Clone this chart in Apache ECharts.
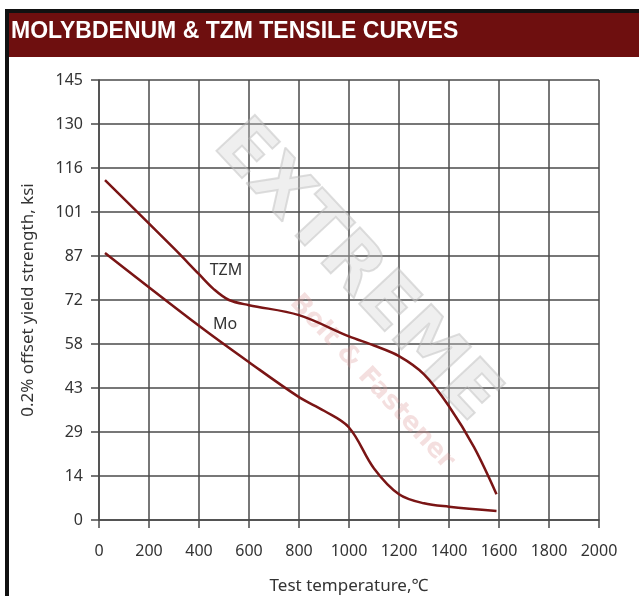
<!DOCTYPE html>
<html>
<head>
<meta charset="utf-8">
<script src="https://cdn.jsdelivr.net/npm/echarts@6/dist/echarts.min.js"></script>
<style>
    html, body { margin: 0; padding: 0; background: #fff; }
    #main { width: 639px; height: 596px; }
</style>
</head>
<body>
<div id="main"></div>
<script>
// temperature (C), 0.2% offset yield strength (ksi)
var tzmData = [
    [24, 112], [300, 89.5], [400, 81], [460, 76], [520, 72.5], [600, 70.8], [800, 67.5],
    [1000, 60.5], [1100, 57.5], [1200, 54], [1300, 48],
    [1400, 37.5], [1500, 24], [1590, 8.5]
];
var moData = [
    [24, 88], [400, 64], [600, 52], [800, 40.5], [900, 36],
    [1000, 30.5], [1100, 17], [1200, 8.5],
    [1300, 5.5], [1400, 4.4], [1590, 3]
];
var yTickLabels = ['0', '14', '29', '43', '58', '72', '87', '101', '116', '130', '145'];
var xTickLabels = ['0', '200', '400', '600', '800', '1000', '1200', '1400', '1600', '1800', '2000'];
var curveNames = ['TZM', 'Mo'];
var labelAt = [[508, 82.4], [504, 64.6]];

var lineColor = '#7a1515';
var gridColor = '#4a4a4a';
var txt = { color: '#333', fontSize: 16, fontFamily: 'Noto Sans' };

function curve(name, data, lab) {
    return {
        name: name,
        type: 'line',
        data: data,
        smooth: 0.35,
        showSymbol: false,
        lineStyle: { color: lineColor, width: 2.5 },
        markPoint: {
            symbol: 'circle',
            symbolSize: 0,
            data: [{ coord: lab }],
            label: {
                show: true,
                position: 'inside',
                formatter: name,
                color: '#333',
                fontSize: 16,
                fontFamily: 'Noto Sans'
            }
        },
        z: 5
    };
}

var option = {
    animation: false,
    backgroundColor: '#fff',
    grid: { left: 99, right: 40, top: 80, bottom: 76, outerBoundsMode: 'none' },
    xAxis: {
        type: 'value',
        min: 0,
        max: 2000,
        interval: 200,
        name: 'Test temperature,\u2103',
        nameLocation: 'middle',
        nameGap: 58,
        nameTextStyle: { color: '#333', fontSize: 17, fontFamily: 'Noto Sans' },
        axisLine: { show: true, lineStyle: { color: gridColor, width: 1.5 } },
        axisTick: { show: true, length: 8, lineStyle: { color: gridColor, width: 1.5 } },
        axisLabel: {
            margin: 23,
            color: txt.color,
            fontSize: txt.fontSize,
            fontFamily: txt.fontFamily,
            formatter: function (v) { return xTickLabels[Math.round(v / 200)]; }
        },
        splitLine: { show: true, lineStyle: { color: gridColor, width: 1.5 } }
    },
    yAxis: {
        type: 'value',
        min: 0,
        max: 145,
        interval: 14.5,
        name: '0.2% offset yield strength, ksi',
        nameLocation: 'middle',
        nameGap: 62,
        nameTextStyle: { color: '#333', fontSize: 17, fontFamily: 'Noto Sans' },
        axisLine: { show: true, lineStyle: { color: gridColor, width: 1.5 } },
        axisTick: { show: true, length: 8, lineStyle: { color: gridColor, width: 1.5 } },
        axisLabel: {
            margin: 16,
            color: txt.color,
            fontSize: txt.fontSize,
            fontFamily: txt.fontFamily,
            formatter: function (v) { return yTickLabels[Math.round(v / 14.5)]; }
        },
        splitLine: { show: true, lineStyle: { color: gridColor, width: 1.5 } }
    },
    graphic: [
        // frame + title bar
        { type: 'rect', shape: { x: 5, y: 9, width: 634, height: 4 }, style: { fill: '#111' }, z: 10 },
        { type: 'rect', shape: { x: 5, y: 9, width: 4, height: 587 }, style: { fill: '#111' }, z: 10 },
        { type: 'rect', shape: { x: 9, y: 13, width: 630, height: 44 }, style: { fill: '#6e0f0f' }, z: 10 },
        {
            type: 'text', left: 11, top: 20, z: 11,
            style: {
                text: 'MOLYBDENUM & TZM TENSILE CURVES',
                fill: '#fff',
                font: 'bold 23px "Liberation Sans"'
            }
        },
        // watermark
        {
            type: 'text', x: 355, y: 272, rotation: -0.82, z: 1,
            style: {
                text: 'EXTREME',
                fill: 'rgba(210,210,210,0.35)',
                stroke: 'rgba(180,180,180,0.45)',
                lineWidth: 2,
                font: 'bold 72px "DejaVu Sans"',
                align: 'center',
                verticalAlign: 'middle'
            }
        },
        {
            type: 'text', x: 372, y: 382, rotation: -0.82, z: 1,
            style: {
                text: 'Bolt & Fastener',
                fill: 'rgba(220,150,150,0.3)',
                font: 'bold 26px "DejaVu Sans"',
                align: 'center',
                verticalAlign: 'middle'
            }
        }
    ],
    series: [
        curve(curveNames[0], tzmData, labelAt[0]),
        curve(curveNames[1], moData, labelAt[1])
    ]
};

echarts.init(document.getElementById('main')).setOption(option);
</script>
</body>
</html>
